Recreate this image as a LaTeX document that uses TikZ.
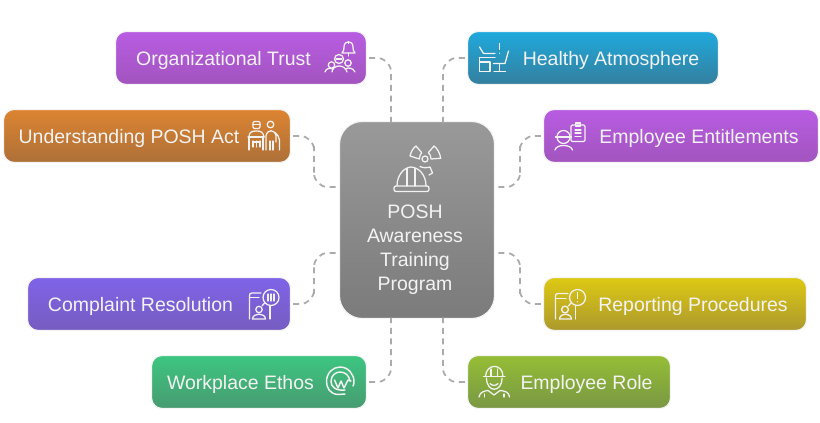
\documentclass[tikz,border=0pt]{standalone}
\usepackage{fontspec}
\setmainfont{Liberation Sans}
\usetikzlibrary{calc}
\definecolor{violettop}{HTML}{B85CE2}
\definecolor{violetbot}{HTML}{A254BE}
\definecolor{orangetop}{HTML}{DC8431}
\definecolor{orangebot}{HTML}{AD7038}
\definecolor{indigotop}{HTML}{7F63E8}
\definecolor{indigobot}{HTML}{765CC0}
\definecolor{greentop}{HTML}{3DC681}
\definecolor{greenbot}{HTML}{479B70}
\definecolor{bluetop}{HTML}{1FA9DD}
\definecolor{bluebot}{HTML}{347F9E}
\definecolor{yellowtop}{HTML}{DDC913}
\definecolor{yellowbot}{HTML}{AC992D}
\definecolor{olivetop}{HTML}{95BE35}
\definecolor{olivebot}{HTML}{799744}
\definecolor{greytop}{HTML}{999999}
\definecolor{greybot}{HTML}{7B7B7B}
\definecolor{rimcol}{HTML}{F4F4F4}
\definecolor{linkcol}{HTML}{ABABAB}
\definecolor{textcol}{HTML}{F3F3F3}
\tikzset{
	topicbox/.style n args={4}{draw=rimcol, line width=0.9pt, rounded corners=8pt, top color=#3, bottom color=#4, minimum width=#1*0.75pt+0.75pt, minimum height=#2*0.75pt+0.75pt, inner sep=0pt},
	topictext/.style={text=textcol, font=\fontsize{14.6}{17}\selectfont, inner sep=0pt, anchor=base},
	link/.style={draw=linkcol, line width=1.3pt, dash pattern=on 4.5pt off 3.5pt, rounded corners=10.5pt},
	icon/.style={draw=textcol, line width=0.95pt, line cap=round, line join=round}
}
\begin{document}
\begin{tikzpicture}[x=0.75pt, y=-0.75pt]
	%%%%% START %%%%%
	\useasboundingbox (0, 0) rectangle (820, 423);
	
	\node[topicbox={154}{196}{greytop}{greybot}, rounded corners=17pt] (posh) at (417, 220) {};
	\coordinate (topl) at (391, 122);
	\coordinate (topr) at (443, 122);
	\coordinate (botl) at (391, 318);
	\coordinate (botr) at (443, 318);
	\coordinate (leftu) at (340, 187);
	\coordinate (leftd) at (340, 253);
	\coordinate (rightu) at (494, 187);
	\coordinate (rightd) at (494, 253);
	
	\node[topicbox={250}{52}{violettop}{violetbot}] (trust) at (241, 58) {};
	\node[topicbox={286}{52}{orangetop}{orangebot}] (act) at (147, 136) {};
	\node[topicbox={262}{52}{indigotop}{indigobot}] (complaint) at (159, 304) {};
	\node[topicbox={214}{52}{greentop}{greenbot}] (ethos) at (259, 382) {};
	\node[topicbox={250}{52}{bluetop}{bluebot}] (atmos) at (593, 58) {};
	\node[topicbox={274}{52}{violettop}{violetbot}] (rights) at (681, 136) {};
	\node[topicbox={262}{52}{yellowtop}{yellowbot}] (report) at (675, 304) {};
	\node[topicbox={202}{52}{olivetop}{olivebot}] (role) at (569, 382) {};
	
	\draw[link] ($(trust.east)+(2,0)$) -| (topl);
	\draw[link] ($(atmos.west)+(-2,0)$) -| (topr);
	\draw[link] ($(ethos.east)+(2,0)$) -| (botl);
	\draw[link] ($(role.west)+(-2,0)$) -| (botr);
	\draw[link] ($(act.east)+(2,0)$) -| (314, 160) |- (leftu);
	\draw[link] ($(complaint.east)+(2,0)$) -| (314, 280) |- (leftd);
	\draw[link] ($(rights.west)+(-2,0)$) -| (520, 160) |- (rightu);
	\draw[link] ($(report.west)+(-2,0)$) -| (520, 280) |- (rightd);
	
	\node[topictext] (trusttext) at (223.5, 65.5) {Organizational Trust};
	\node[topictext] (acttext) at (129, 143.5) {Understanding POSH Act};
	\node[topictext] (complainttext) at (140.5, 311.5) {Complaint Resolution};
	\node[topictext] (ethostext) at (240.5, 389.5) {Workplace Ethos};
	\node[topictext] (atmostext) at (611, 65.5) {Healthy Atmosphere};
	\node[topictext] (rightstext) at (699, 143.5) {Employee Entitlements};
	\node[topictext] (reporttext) at (693, 311.5) {Reporting Procedures};
	\node[topictext] (roletext) at (586.5, 389.5) {Employee Role};
	
	\node[topictext] (l1) at (415, 218.5) {POSH};
	\node[topictext] (l2) at (415, 242.5) {Awareness};
	\node[topictext] (l3) at (415, 266.5) {Training};
	\node[topictext] (l4) at (415, 290.5) {Program};
	
	% helmet and radiation sign
	\draw[icon, rounded corners=1.5pt] (394, 186) rectangle (429, 191.5);
	\draw[icon] (397, 186) .. controls (397, 175) and (404, 167.5) .. (411, 167) .. controls (419, 167.5) and (426, 175) .. (426, 186);
	\draw[icon] (407, 186) -- (407, 168.5) (415, 186) -- (415, 168.5);
	\draw[icon] (425, 159) circle (3);
	\draw[icon] (416, 146) .. controls (413, 148) and (411, 152) .. (410, 156) -- (419.3, 159) .. controls (419.5, 156) and (420.5, 154) .. (421.7, 152.7) -- cycle;
	\draw[icon] (434, 146) .. controls (437, 148) and (440, 153) .. (440.7, 158.3) -- (431, 159) .. controls (431, 156) and (430, 154) .. (428.3, 152.7) -- cycle;
	\draw[icon] (420, 166.5) .. controls (423, 168) and (427, 168) .. (430, 167) -- (432.5, 173) -- (429, 175);
	
	% bell and three people
	\draw[icon] (342, 53) .. controls (344, 51) and (344, 49) .. (344, 47) .. controls (344, 40) and (353, 40) .. (353, 47) .. controls (353, 49) and (353, 51) .. (355, 53) -- cycle;
	\draw[icon] (348.5, 53) -- (348.5, 56) (348.5, 42) -- (348.5, 43.5);
	\draw[icon] (339, 59) circle (4.5);
	\draw[icon] (336, 59) -- (342, 59);
	\draw[icon] (331.5, 65) circle (3.2);
	\draw[icon] (348, 63) circle (3.2);
	\draw[icon] (325, 72) .. controls (326, 68) and (330, 68) .. (333, 69);
	\draw[icon] (332, 72) .. controls (333, 64) and (345, 64) .. (347, 72);
	\draw[icon] (345, 69) .. controls (349, 67) and (353, 68) .. (355, 72);
	
	% doctor behind desk and visitor
	\draw[icon, rounded corners=1pt] (253, 121.5) rectangle (260, 128.5);
	\draw[icon] (253, 124.5) -- (260, 124.5);
	\draw[icon] (249, 137) .. controls (249, 132) and (252, 131) .. (256.5, 131) .. controls (261, 131) and (263, 132) .. (264, 137);
	\draw[icon] (248, 137) -- (264, 137) (249, 137) -- (249, 150) (263, 137) -- (263, 150);
	\draw[icon] (253, 141) -- (253, 147) (256.5, 141) -- (256.5, 147) (260, 141) -- (260, 147) (253, 142) -- (260, 142);
	\draw[icon] (270.5, 124.5) circle (3.3);
	\draw[icon] (266, 150) -- (266, 136) .. controls (267, 129) and (275, 129) .. (276, 136) -- (276, 142) (279.5, 150) -- (279.5, 140) .. controls (279.5, 137) and (277, 134) .. (275, 132.5);
	\draw[icon] (270, 150) -- (270, 141) (273, 150) -- (273, 141);
	
	% phone, speech bubble and user
	\draw[icon] (261, 293) -- (252, 293) .. controls (250, 293) and (249.5, 294) .. (249.5, 296) -- (249.5, 319);
	\draw[icon] (250, 297.5) -- (259, 297.5);
	\draw[icon] (270, 306) -- (270, 319);
	\draw[icon] (271, 297.5) circle (8);
	\draw[icon] (264.5, 303) -- (262, 306);
	\draw[icon] (268, 294) -- (268, 301) (271, 294) -- (271, 301) (274, 294) -- (274, 301);
	\draw[icon] (259, 309.5) circle (3.2);
	\draw[icon] (252.5, 319) .. controls (253, 312.5) and (265, 312.5) .. (265.5, 319) -- cycle;
	
	% round W mark
	\draw[icon, line width=1.1pt] (345, 394) -- (338, 394.5) .. controls (330, 394) and (326.5, 388) .. (326.5, 381.5) .. controls (326.5, 373) and (333, 367) .. (340, 367) .. controls (348, 367) and (354, 374) .. (354, 381.5) .. controls (354, 384) and (353.5, 385) .. (353, 386);
	\draw[icon, line width=1.1pt] (345, 390) .. controls (336, 391) and (331, 387) .. (331, 381.5) .. controls (331, 375) and (336, 372) .. (340, 372) .. controls (345, 372) and (349, 375) .. (350, 381);
	\draw[icon, line width=1.1pt] (334.5, 380) -- (338, 388) -- (341, 381) -- (344, 388) -- (348, 380) -- (351, 381);
	
	% desk, warning mark and chair
	\draw[icon] (479.5, 47) -- (483.5, 53.5) -- (495, 53.5);
	\draw[icon] (479.5, 57.5) -- (495, 57.5);
	\draw[icon] (479.5, 62) rectangle (490, 71.5);
	\draw[icon] (479.5, 57.5) -- (479.5, 71.5);
	\draw[icon] (499.5, 43.5) -- (499.5, 49.5) (499.5, 53.3) -- (499.5, 53.4);
	\draw[icon] (508.5, 51) -- (505, 63.5) -- (493.5, 63.5);
	\draw[icon] (499.5, 63.5) -- (499.5, 71.5) (494, 71.5) -- (505.5, 71.5);
	
	% worker and clipboard
	\draw[icon, rounded corners=1pt] (571, 125) rectangle (585, 141.5);
	\draw[icon] (575.5, 123) rectangle (580.5, 126);
	\draw[icon] (575, 130) -- (581, 130) (575, 133) -- (581, 133) (575, 136.5) -- (581, 136.5);
	\draw[icon] (563.5, 137) circle (6.5);
	\draw[icon] (555.5, 137) -- (571.5, 137);
	\draw[icon] (555, 150) .. controls (556, 144) and (571, 144) .. (572.5, 150);
	
	% phone, warning bubble and user
	\draw[icon] (568, 293.5) -- (558, 293.5) .. controls (556, 293.5) and (555.5, 294.5) .. (555.5, 296) -- (555.5, 319);
	\draw[icon] (555.5, 298.5) -- (566, 298.5);
	\draw[icon] (575.5, 306) -- (575.5, 319);
	\draw[icon] (577.5, 297.5) circle (8);
	\draw[icon] (571, 303) -- (568.5, 306);
	\draw[icon] (577.5, 292.5) -- (577.5, 298.5) (577.5, 301.8) -- (577.5, 301.9);
	\draw[icon] (565, 309.5) circle (3.4);
	\draw[icon] (559.5, 319) .. controls (560, 312.5) and (571, 312.5) .. (571.5, 319) -- cycle;
	
	% worker with helmet
	\draw[icon] (483.5, 376.5) -- (505, 376.5);
	\draw[icon] (485.5, 376.5) .. controls (486, 363) and (503, 363) .. (503, 376.5);
	\draw[icon] (491, 376) -- (491, 369) (497.5, 376) -- (497.5, 369);
	\draw[icon] (486.5, 378) .. controls (486.5, 393) and (502, 393) .. (502, 378);
	\draw[icon] (490, 383.5) .. controls (492, 386) and (496, 386) .. (498, 383.5);
	\draw[icon] (479, 397) .. controls (480, 392) and (484, 391) .. (488, 390.5) -- (494, 395) -- (500, 390.5) .. controls (505, 391) and (509, 392) .. (509.5, 397);
	\draw[icon] (484.5, 397) -- (484.5, 394) (504, 397) -- (504, 394);
	%%%%% END %%%%%
\end{tikzpicture}
\end{document}
